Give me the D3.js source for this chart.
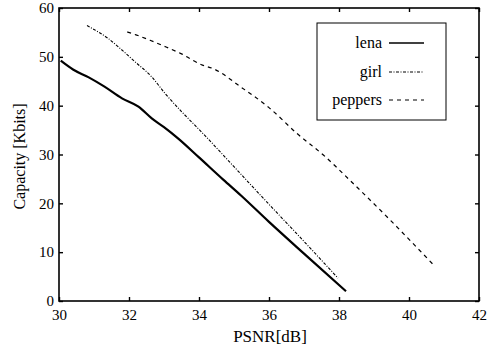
<!DOCTYPE html>
<html>
<head>
<meta charset="utf-8">
<script src="https://cdn.jsdelivr.net/npm/d3@7"></script>
<style>
  body { margin: 0; background: #fff; }
  svg { font-family: "Liberation Serif", "DejaVu Serif", serif; }
</style>
</head>
<body>
<svg id="chart" width="500" height="355"></svg>
<script>
// data
const lenaX = [30.05, 30.4, 30.85, 31.3, 31.8, 32.27, 32.65, 33.0, 33.4, 34.0, 34.7, 35.2, 36.0, 37.0, 38.2];
const lenaY = [49.2, 47.4, 45.8, 43.9, 41.5, 39.8, 37.4, 35.6, 33.3, 29.4, 24.8, 21.6, 16.2, 9.7, 2.0];
const girlX = [30.8, 31.1, 31.4, 31.75, 32.17, 32.65, 33.03, 33.5, 34.1, 35.0, 36.0, 37.0, 37.97];
const girlY = [56.4, 55.2, 53.8, 51.7, 49.0, 45.9, 42.5, 38.8, 34.4, 27.5, 19.8, 12.2, 4.7];
const peppersX = [31.95, 32.2, 32.6, 33.0, 33.5, 34.1, 34.4, 35.2, 36.0, 36.8, 37.6, 38.3, 39.5, 40.7];
const peppersY = [55.1, 54.5, 53.4, 52.2, 50.6, 48.3, 47.6, 43.8, 39.6, 34.3, 29.6, 24.8, 16.3, 7.4];
const xTicks = [30, 32, 34, 36, 38, 40, 42];
const yTicks = [0, 10, 20, 30, 40, 50, 60];
const seriesNames = ['lena', 'girl', 'peppers'];

const margin = { left: 59, right: 21, top: 8, bottom: 54 };
const width = 500, height = 355;

const svg = d3.select('#chart');

const x = d3.scaleLinear().domain([30, 42]).range([margin.left, width - margin.right]);
const y = d3.scaleLinear().domain([0, 60]).range([height - margin.bottom, margin.top]);

// frame
svg.append('rect')
  .attr('x', x(30)).attr('y', y(60))
  .attr('width', x(42) - x(30)).attr('height', y(0) - y(60))
  .attr('fill', 'none').attr('stroke', '#000').attr('stroke-width', 1.6);

// inner ticks on all sides
const tickLen = 4;
const xb = svg.append('g').attr('transform', `translate(0,${y(0)})`)
  .call(d3.axisBottom(x).tickValues(xTicks).tickSize(-tickLen).tickPadding(8).tickFormat(d3.format('d')));
const xt = svg.append('g').attr('transform', `translate(0,${y(60)})`)
  .call(d3.axisTop(x).tickValues(xTicks).tickSize(-tickLen).tickFormat(''));
const yl = svg.append('g').attr('transform', `translate(${x(30)},0)`)
  .call(d3.axisLeft(y).tickValues(yTicks).tickSize(-tickLen).tickPadding(5).tickFormat(d3.format('d')));
const yr = svg.append('g').attr('transform', `translate(${x(42)},0)`)
  .call(d3.axisRight(y).tickValues(yTicks).tickSize(-tickLen).tickFormat(''));

[xb, xt, yl, yr].forEach(g => {
  g.select('.domain').remove();
  g.selectAll('line').attr('stroke', '#000').attr('stroke-width', 1.4);
  g.selectAll('text').attr('fill', '#000')
    .style('font-family', '"Liberation Serif", serif').style('font-size', '15px');
});

// axis titles
svg.append('text')
  .attr('x', 270).attr('y', 342)
  .attr('text-anchor', 'middle')
  .style('font-size', '17px')
  .text('PSNR[dB]');

svg.append('text')
  .attr('transform', `translate(25,${(y(0) + y(60)) / 2 + 2}) rotate(-90)`)
  .attr('text-anchor', 'middle')
  .style('font-size', '16px')
  .text('Capacity [Kbits]');

// lines
const styles = {
  lena: { width: 2.2, dash: null },
  girl: { width: 1.1, dash: '3,1.5,1,1.5' },
  peppers: { width: 1.2, dash: '4,4' }
};
const series = [
  { name: 'lena', xs: lenaX, ys: lenaY },
  { name: 'girl', xs: girlX, ys: girlY },
  { name: 'peppers', xs: peppersX, ys: peppersY }
];

const line = d3.line().x(d => x(d[0])).y(d => y(d[1])).curve(d3.curveMonotoneX);

series.forEach(s => {
  const pts = s.xs.map((v, i) => [v, s.ys[i]]);
  svg.append('path')
    .datum(pts)
    .attr('d', line)
    .attr('fill', 'none')
    .attr('stroke', '#000')
    .attr('stroke-width', styles[s.name].width)
    .attr('stroke-dasharray', styles[s.name].dash);
});

// legend
const legend = svg.append('g');
legend.append('rect')
  .attr('x', 317).attr('y', 23).attr('width', 129).attr('height', 97)
  .attr('fill', '#fff').attr('stroke', '#000').attr('stroke-width', 1);

const rowY = [43, 72, 100];
seriesNames.forEach((name, i) => {
  legend.append('text')
    .attr('x', 382).attr('y', rowY[i] + 5)
    .attr('text-anchor', 'end')
    .style('font-size', '16px')
    .text(name);
  legend.append('line')
    .attr('x1', 389).attr('x2', 424)
    .attr('y1', rowY[i]).attr('y2', rowY[i])
    .attr('stroke', '#000')
    .attr('stroke-width', styles[name].width === 2.2 ? 1.6 : styles[name].width)
    .attr('stroke-dasharray', styles[name].dash);
});
</script>
</body>
</html>
